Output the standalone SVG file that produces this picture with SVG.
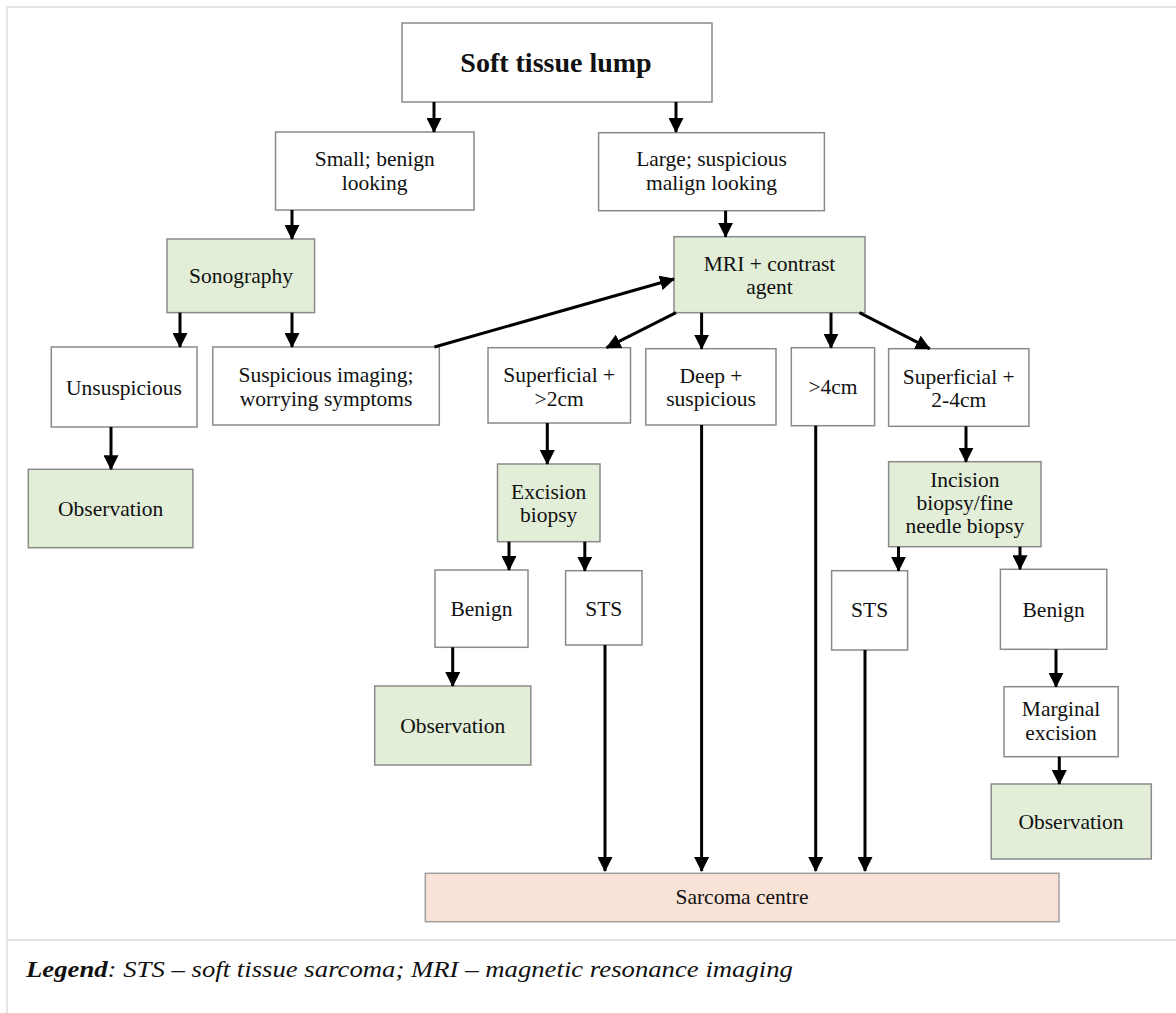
<svg xmlns="http://www.w3.org/2000/svg" width="1176" height="1013" viewBox="0 0 1176 1013">
<style>
.n rect{stroke:#8a8a8a;stroke-width:1.5;fill:#ffffff}
.g rect{fill:#e2eed8}
.s rect{fill:#f8e3d6;stroke:#a0a0a0}
text{font-family:"Liberation Serif","Times New Roman",serif;font-size:21.5px;fill:#111;text-anchor:middle}
.c line{stroke:#000;stroke-width:3;marker-end:url(#ah)}
.frame{stroke:#e4e4e4;stroke-width:2;fill:none}
</style>
<defs>
<marker id="ah" markerUnits="userSpaceOnUse" markerWidth="15" markerHeight="15" refX="14" refY="7.5" orient="auto" viewBox="0 0 15 15">
<path d="M0,0 L15,7.5 L0,15 z" fill="#000"/>
</marker>
</defs>
<rect width="1176" height="1013" fill="#fff"/>
<path class="frame" d="M7,1013 V7 H1176 M7,940 H1176"/>

<g id="lump" class="n"><rect x="402" y="23" width="310" height="79"/><text x="556" y="72" style="font-weight:bold;font-size:28px">Soft tissue lump</text></g>
<g id="small" class="n"><rect x="275.5" y="132" width="198.5" height="78"/><text x="374.7" y="166">Small; benign</text><text x="374.7" y="189.5">looking</text></g>
<g id="large" class="n"><rect x="598.6" y="132.7" width="225.8" height="78"/><text x="711.5" y="166">Large; suspicious</text><text x="711.5" y="189.5">malign looking</text></g>
<g id="sono" class="n g"><rect x="167" y="239" width="147.6" height="73.6"/><text x="241" y="283">Sonography</text></g>
<g id="mri" class="n g"><rect x="674" y="236.7" width="191" height="76"/><text x="769.5" y="270.5">MRI + contrast</text><text x="769.5" y="294">agent</text></g>
<g id="unsusp" class="n"><rect x="51.3" y="347" width="145.7" height="80"/><text x="124" y="395">Unsuspicious</text></g>
<g id="suspimg" class="n"><rect x="212.8" y="347" width="226.5" height="78"/><text x="326" y="382">Suspicious imaging;</text><text x="326" y="405.5">worrying symptoms</text></g>
<g id="sup2" class="n"><rect x="488" y="347.7" width="142.5" height="75.3"/><text x="559.2" y="382">Superficial +</text><text x="559.2" y="405.5">&gt;2cm</text></g>
<g id="deep" class="n"><rect x="645.8" y="348.7" width="130.2" height="76.3"/><text x="711" y="382.5">Deep +</text><text x="711" y="406">suspicious</text></g>
<g id="gt4" class="n"><rect x="791.3" y="347.7" width="83.3" height="78"/><text x="833" y="394">&gt;4cm</text></g>
<g id="sup24" class="n"><rect x="888.6" y="348.7" width="140.3" height="77.6"/><text x="958.7" y="383.5">Superficial +</text><text x="958.7" y="407">2-4cm</text></g>
<g id="obs1" class="n g"><rect x="28.3" y="469.3" width="164.6" height="78.4"/><text x="110.6" y="516">Observation</text></g>
<g id="excision" class="n g"><rect x="497.5" y="464" width="102.5" height="77.7"/><text x="548.7" y="498.5">Excision</text><text x="548.7" y="522">biopsy</text></g>
<g id="benign1" class="n"><rect x="435" y="570" width="93" height="77.3"/><text x="481.5" y="616">Benign</text></g>
<g id="sts1" class="n"><rect x="565.6" y="570.7" width="76.4" height="74.3"/><text x="603.8" y="616">STS</text></g>
<g id="obs2" class="n g"><rect x="374.7" y="686" width="156.1" height="79"/><text x="452.7" y="733">Observation</text></g>
<g id="incision" class="n g"><rect x="888.6" y="461.7" width="152.4" height="85"/><text x="964.8" y="487">Incision</text><text x="964.8" y="510">biopsy/fine</text><text x="964.8" y="533">needle biopsy</text></g>
<g id="sts2" class="n"><rect x="831.6" y="570.7" width="76" height="79.3"/><text x="869.6" y="617">STS</text></g>
<g id="benign2" class="n"><rect x="1000.4" y="569.3" width="106.4" height="80"/><text x="1053.6" y="617">Benign</text></g>
<g id="marginal" class="n"><rect x="1004" y="686.7" width="114.2" height="70"/><text x="1061" y="716">Marginal</text><text x="1061" y="739.5">excision</text></g>
<g id="obs3" class="n g"><rect x="991.2" y="784" width="160.1" height="75"/><text x="1071" y="829">Observation</text></g>
<g id="sarcoma" class="n s"><rect x="425.3" y="873.3" width="633.7" height="48.4"/><text x="742" y="904" style="font-size:21.5px">Sarcoma centre</text></g>

<g id="connectors" class="c">
<line x1="434" y1="102" x2="434" y2="132"/>
<line x1="676" y1="102" x2="676" y2="132"/>
<line x1="292" y1="210" x2="292" y2="239"/>
<line x1="725.6" y1="210.7" x2="725.6" y2="236.7"/>
<line x1="180" y1="312.6" x2="180" y2="347"/>
<line x1="292" y1="312.6" x2="292" y2="347"/>
<line x1="434.4" y1="347" x2="674" y2="279"/>
<line x1="676" y1="312.7" x2="606.6" y2="347.7"/>
<line x1="701.6" y1="312.7" x2="701.6" y2="348.7"/>
<line x1="831" y1="312.7" x2="831" y2="347.7"/>
<line x1="859.4" y1="312.7" x2="929.7" y2="348.7"/>
<line x1="111" y1="427" x2="111" y2="469.3"/>
<line x1="547.3" y1="423" x2="547.3" y2="464"/>
<line x1="509" y1="541.7" x2="509" y2="570"/>
<line x1="584.8" y1="541.7" x2="584.8" y2="570.7"/>
<line x1="452.7" y1="647.3" x2="452.7" y2="686"/>
<line x1="605" y1="645" x2="605" y2="871"/>
<line x1="701.6" y1="425" x2="701.6" y2="871"/>
<line x1="815.7" y1="425.7" x2="815.7" y2="871"/>
<line x1="865" y1="650" x2="865" y2="871"/>
<line x1="966" y1="426.3" x2="966" y2="461.7"/>
<line x1="898.5" y1="546.7" x2="898.5" y2="570.7"/>
<line x1="1020" y1="546.7" x2="1020" y2="569.3"/>
<line x1="1056" y1="649.3" x2="1056" y2="686.7"/>
<line x1="1059.3" y1="756.7" x2="1059.3" y2="784"/>
</g>

<text x="26" y="977" textLength="767" lengthAdjust="spacingAndGlyphs" style="text-anchor:start;font-style:italic;font-size:24px"><tspan font-weight="bold">Legend</tspan>: STS – soft tissue sarcoma; MRI – magnetic resonance imaging</text>
</svg>
